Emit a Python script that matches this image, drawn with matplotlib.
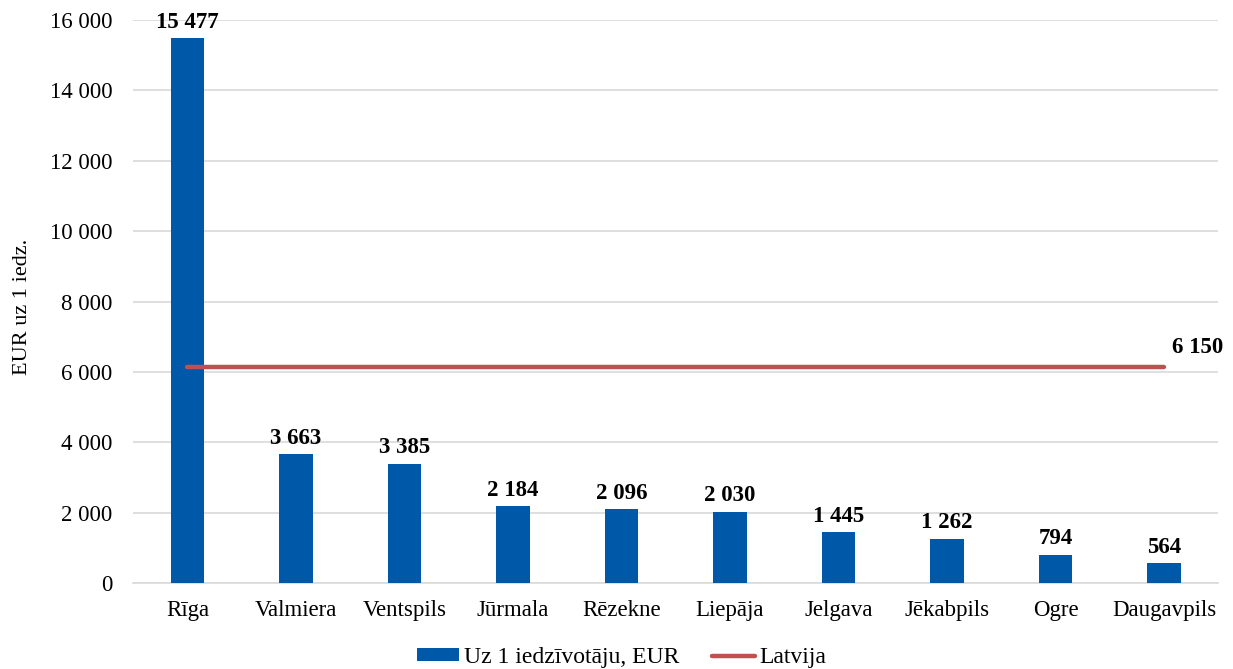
import matplotlib
matplotlib.use('Agg')
import matplotlib.pyplot as plt
import numpy as np

cities = ['Rīga', 'Valmiera', 'Ventspils', 'Jūrmala', 'Rēzekne',
          'Liepāja', 'Jelgava', 'Jēkabpils', 'Ogre', 'Daugavpils']
per_capita = [15477, 3663, 3385, 2184, 2096, 2030, 1445, 1262, 794, 564]
latvija = 6150
yticks = [0, 2000, 4000, 6000, 8000, 10000, 12000, 14000, 16000]


def fmt(v):
    return '{:,}'.format(v).replace(',', ' ')


plt.rcParams['font.family'] = ['Liberation Serif', 'DejaVu Serif']

fig = plt.figure(figsize=(12.33, 6.69), dpi=100)
ax = fig.add_axes([0.108, 0.1286, 0.880, 0.8414])

x = np.arange(len(cities))
bars = ax.bar(x, per_capita, width=0.31, color='#0058A8',
              label='Uz 1 iedzīvotāju, EUR', zorder=3)
line, = ax.plot([x[0], x[-1]], [latvija, latvija], color='#C0504D',
                linewidth=3.2, solid_capstyle='round', label='Latvija',
                zorder=4)

for xi, v in zip(x, per_capita):
    ax.annotate(fmt(v), (xi, v), xytext=(0, 4), textcoords='offset points',
                ha='center', va='bottom', fontsize=16.5, fontweight='bold')
ax.annotate(fmt(latvija), (x[-1], latvija), xytext=(24, 6),
            textcoords='offset points', ha='center', va='bottom',
            fontsize=16.5, fontweight='bold')

ax.set_xlim(-0.5, len(cities) - 0.5)
ax.set_ylim(0, 16000)
ax.set_yticks(yticks)
ax.set_yticklabels([fmt(t) for t in yticks])
ax.set_xticks(x)
ax.set_xticklabels(cities)
ax.tick_params(axis='both', length=0, labelsize=16.5)
ax.tick_params(axis='y', pad=15)
ax.tick_params(axis='x', pad=12)
ax.set_ylabel('EUR uz 1 iedz.', fontsize=16, labelpad=14)
ax.yaxis.set_label_coords(-0.093, 0.49)

ax.grid(axis='y', color='#D9D9D9', linewidth=1.2, zorder=0)
for s in ['top', 'right', 'left']:
    ax.spines[s].set_visible(False)
ax.spines['bottom'].set_color('#D9D9D9')
ax.spines['bottom'].set_linewidth(1.2)

fig.legend([bars, line], ['Uz 1 iedzīvotāju, EUR', 'Latvija'],
           loc='center', bbox_to_anchor=(0.504, 0.017), ncol=2,
           frameon=False, fontsize=17, handlelength=1.8, handleheight=0.45,
           handletextpad=0.2, columnspacing=1.4)

plt.savefig('out.png', dpi=100)
plt.close()
